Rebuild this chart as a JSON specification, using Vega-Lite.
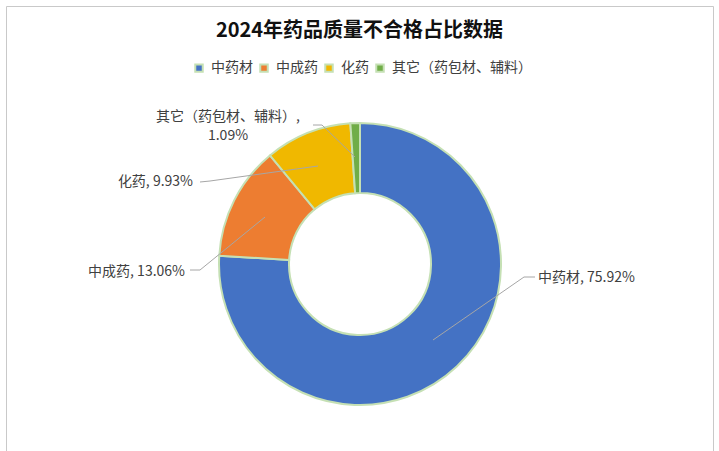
{
  "$schema": "https://vega.github.io/schema/vega-lite/v6.json",
  "width": 707,
  "height": 446,
  "autosize": {"type": "none"},
  "padding": {"left": 6, "top": 6, "right": 6, "bottom": 0},
  "background": "white",
  "config": {"view": {"stroke": "#c9c9c9", "strokeWidth": 1}, "font": "Noto Sans CJK SC"},
  "title": {"text": "2024年药品质量不合格占比数据", "fontSize": 20, "fontWeight": "bold", "color": "#111111", "anchor": "middle", "offset": -35, "font": "Noto Sans CJK SC"},
  "datasets": {
    "pie": [
      {"category": "中药材", "value": 75.92, "idx": 1, "cx": 0, "cy": 0},
      {"category": "中成药", "value": 13.06, "idx": 2, "cx": 0, "cy": 0},
      {"category": "化药", "value": 9.93, "idx": 3, "cx": 0, "cy": 0},
      {"category": "其它（药包材、辅料）", "value": 1.09, "idx": 4, "cx": 0, "cy": 0}
    ],
    "leaders": [
      {"seg": "中药材", "ord": 1, "lx": 175, "ly": -13},
      {"seg": "中药材", "ord": 2, "lx": 164, "ly": -13},
      {"seg": "中药材", "ord": 3, "lx": 73, "ly": -76},
      {"seg": "中成药", "ord": 1, "lx": -170, "ly": -6},
      {"seg": "中成药", "ord": 2, "lx": -160, "ly": -6},
      {"seg": "中成药", "ord": 3, "lx": -95, "ly": 47},
      {"seg": "化药", "ord": 1, "lx": -160, "ly": 82},
      {"seg": "化药", "ord": 2, "lx": -150, "ly": 83},
      {"seg": "化药", "ord": 3, "lx": -42, "ly": 98},
      {"seg": "其它", "ord": 1, "lx": -47, "ly": 139},
      {"seg": "其它", "ord": 2, "lx": -38, "ly": 139},
      {"seg": "其它", "ord": 3, "lx": -5, "ly": 107}
    ],
    "labels": [
      {"label": "中药材, 75.92%", "tx": 178, "ty": -14, "side": "left"},
      {"label": "中成药, 13.06%", "tx": -175, "ty": -8, "side": "right"},
      {"label": "化药, 9.93%", "tx": -167, "ty": 82, "side": "right"},
      {"label": "其它（药包材、辅料）,", "tx": -132, "ty": 147, "side": "center"},
      {"label": "1.09%", "tx": -132, "ty": 128, "side": "center"}
    ]
  },
  "layer": [
    {
      "data": {"name": "pie"},
      "mark": {"type": "arc", "innerRadius": 71, "outerRadius": 141, "stroke": "#C5E0B4", "strokeWidth": 2},
      "encoding": {
        "x": {"field": "cx", "type": "quantitative", "scale": {"domain": [-354, 353], "nice": false, "zero": false}, "axis": null},
        "y": {"field": "cy", "type": "quantitative", "scale": {"domain": [-188, 258], "nice": false, "zero": false}, "axis": null},
        "theta": {"field": "value", "type": "quantitative", "stack": true},
        "order": {"field": "idx", "type": "quantitative"},
        "color": {
          "field": "category", "type": "nominal",
          "scale": {"domain": ["中药材", "中成药", "化药", "其它（药包材、辅料）"], "range": ["#4472C4", "#ED7D31", "#F0B800", "#70AD47"]},
          "legend": {"title": null, "orient": "none", "legendX": 186, "legendY": 55, "direction": "horizontal", "columns": 4, "symbolType": "square", "symbolSize": 56, "symbolStrokeColor": "#C5E0B4", "symbolStrokeWidth": 2, "labelFontSize": 14, "labelFont": "Noto Sans CJK SC", "labelColor": "#404040", "labelOffset": 5, "columnPadding": 3, "labelLimit": 300}
        }
      }
    },
    {
      "data": {"name": "leaders"},
      "mark": {"type": "line", "color": "#A6A6A6", "strokeWidth": 1},
      "encoding": {
        "x": {"field": "lx", "type": "quantitative", "scale": {"domain": [-354, 353], "nice": false, "zero": false}, "axis": null},
        "y": {"field": "ly", "type": "quantitative", "scale": {"domain": [-188, 258], "nice": false, "zero": false}, "axis": null},
        "detail": {"field": "seg", "type": "nominal"},
        "order": {"field": "ord", "type": "quantitative"}
      }
    },
    {
      "data": {"name": "labels"},
      "transform": [{"filter": "datum.side === 'left'"}],
      "mark": {"type": "text", "align": "left", "baseline": "middle", "fontSize": 14, "color": "#404040", "font": "Noto Sans CJK SC"},
      "encoding": {
        "x": {"field": "tx", "type": "quantitative", "scale": {"domain": [-354, 353], "nice": false, "zero": false}, "axis": null},
        "y": {"field": "ty", "type": "quantitative", "scale": {"domain": [-188, 258], "nice": false, "zero": false}, "axis": null},
        "text": {"field": "label"}
      }
    },
    {
      "data": {"name": "labels"},
      "transform": [{"filter": "datum.side === 'right'"}],
      "mark": {"type": "text", "align": "right", "baseline": "middle", "fontSize": 14, "color": "#404040", "font": "Noto Sans CJK SC"},
      "encoding": {
        "x": {"field": "tx", "type": "quantitative", "scale": {"domain": [-354, 353], "nice": false, "zero": false}, "axis": null},
        "y": {"field": "ty", "type": "quantitative", "scale": {"domain": [-188, 258], "nice": false, "zero": false}, "axis": null},
        "text": {"field": "label"}
      }
    },
    {
      "data": {"name": "labels"},
      "transform": [{"filter": "datum.side === 'center'"}],
      "mark": {"type": "text", "align": "center", "baseline": "middle", "fontSize": 14, "color": "#404040", "font": "Noto Sans CJK SC"},
      "encoding": {
        "x": {"field": "tx", "type": "quantitative", "scale": {"domain": [-354, 353], "nice": false, "zero": false}, "axis": null},
        "y": {"field": "ty", "type": "quantitative", "scale": {"domain": [-188, 258], "nice": false, "zero": false}, "axis": null},
        "text": {"field": "label"}
      }
    }
  ]
}
